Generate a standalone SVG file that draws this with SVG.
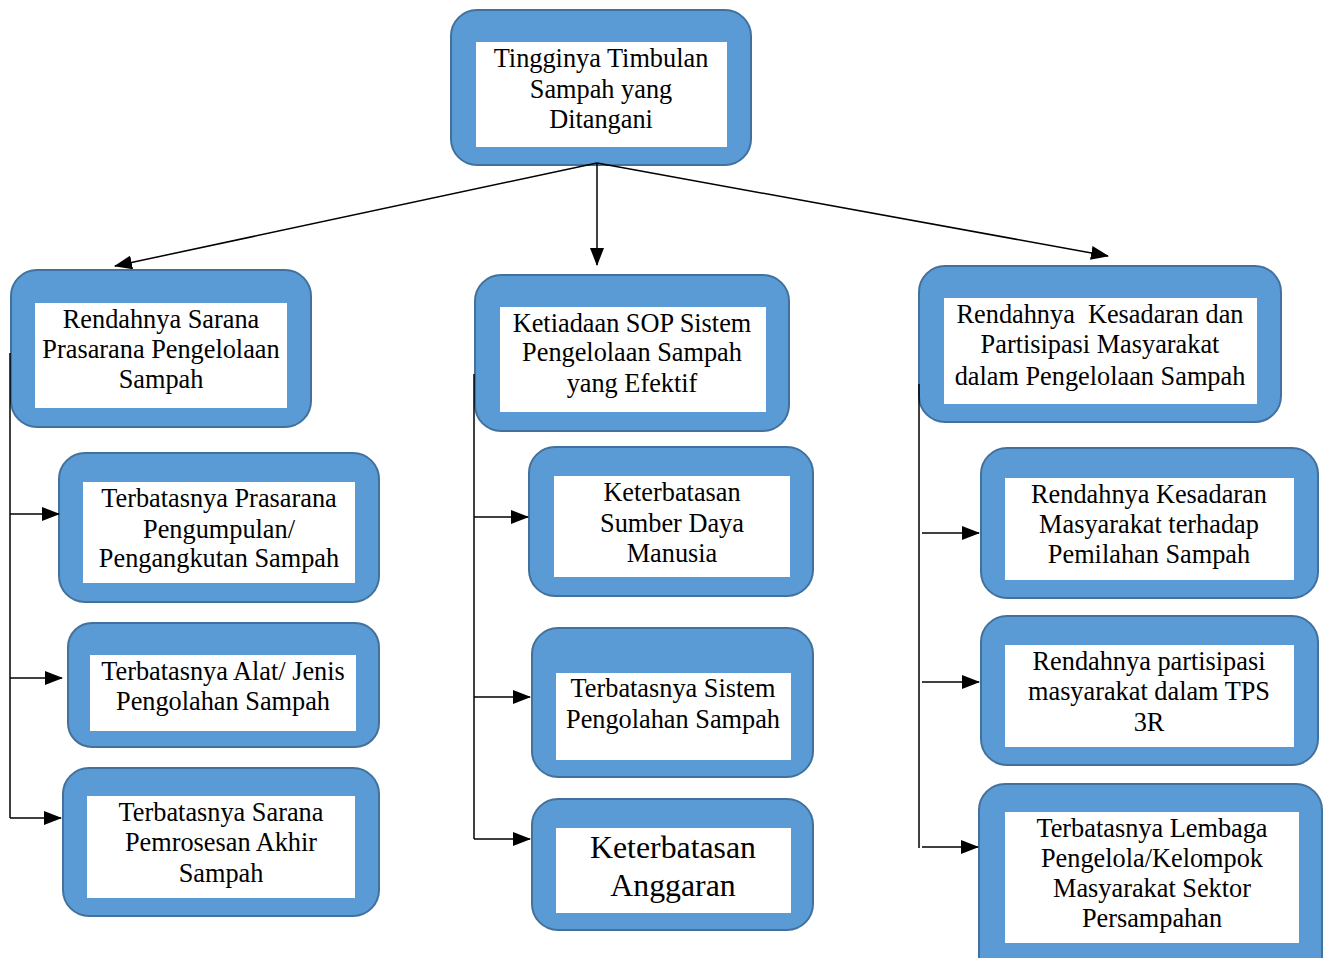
<svg xmlns="http://www.w3.org/2000/svg" width="1323" height="958" viewBox="0 0 1323 958">
<style>
.box{fill:#5B9BD5;stroke:#41719C;stroke-width:2}
.in{fill:#FFFFFF}
.t{font-family:"Liberation Serif","Times New Roman",serif;font-size:26.3px;fill:#000;text-anchor:middle;white-space:pre}
.big{font-size:31.8px}
.c{stroke:#000;stroke-width:1.5;fill:none}
.a{marker-end:url(#ah)}
</style>
<defs>
<marker id="ah" markerWidth="18" markerHeight="14" refX="17" refY="7" orient="auto" markerUnits="userSpaceOnUse">
<path d="M0,0 L18,7 L0,14 Z" fill="#000"/>
</marker>
</defs>
<g id="n0">
<rect class="box" x="451" y="10" width="300" height="155" rx="26"/>
<rect class="in" x="476" y="42" width="251" height="105"/>
<text class="t"><tspan x="601" y="67">Tingginya Timbulan</tspan><tspan x="601" y="98">Sampah yang</tspan><tspan x="601" y="128">Ditangani</tspan></text>
</g>
<g id="L1">
<rect class="box" x="11" y="270" width="300" height="157" rx="26"/>
<rect class="in" x="35" y="303" width="252" height="105"/>
<text class="t"><tspan x="161" y="328">Rendahnya Sarana</tspan><tspan x="161" y="358">Prasarana Pengelolaan</tspan><tspan x="161" y="388">Sampah</tspan></text>
</g>
<g id="L2">
<rect class="box" x="59" y="453" width="320" height="149" rx="26"/>
<rect class="in" x="83" y="482" width="272" height="101"/>
<text class="t"><tspan x="219" y="507">Terbatasnya Prasarana</tspan><tspan x="219" y="538">Pengumpulan/</tspan><tspan x="219" y="567">Pengangkutan Sampah</tspan></text>
</g>
<g id="L3">
<rect class="box" x="68" y="623" width="311" height="124" rx="24"/>
<rect class="in" x="90" y="655" width="266" height="76"/>
<text class="t"><tspan x="223" y="680">Terbatasnya Alat/ Jenis</tspan><tspan x="223" y="710">Pengolahan Sampah</tspan></text>
</g>
<g id="L4">
<rect class="box" x="63" y="768" width="316" height="148" rx="26"/>
<rect class="in" x="87" y="796" width="268" height="102"/>
<text class="t"><tspan x="221" y="821">Terbatasnya Sarana</tspan><tspan x="221" y="851">Pemrosesan Akhir</tspan><tspan x="221" y="882">Sampah</tspan></text>
</g>
<g id="M1">
<rect class="box" x="475" y="275" width="314" height="156" rx="26"/>
<rect class="in" x="500" y="307" width="266" height="105"/>
<text class="t"><tspan x="632" y="332">Ketiadaan SOP Sistem</tspan><tspan x="632" y="361">Pengelolaan Sampah</tspan><tspan x="632" y="392">yang Efektif</tspan></text>
</g>
<g id="M2">
<rect class="box" x="529" y="447" width="284" height="149" rx="26"/>
<rect class="in" x="554" y="476" width="236" height="101"/>
<text class="t"><tspan x="672" y="501">Keterbatasan</tspan><tspan x="672" y="532">Sumber Daya</tspan><tspan x="672" y="562">Manusia</tspan></text>
</g>
<g id="M3">
<rect class="box" x="532" y="628" width="281" height="149" rx="26"/>
<rect class="in" x="556" y="673" width="235" height="87"/>
<text class="t"><tspan x="673" y="697">Terbatasnya Sistem</tspan><tspan x="673" y="728">Pengolahan Sampah</tspan></text>
</g>
<g id="M4">
<rect class="box" x="532" y="799" width="281" height="131" rx="26"/>
<rect class="in" x="556" y="828" width="235" height="85"/>
<text class="t big"><tspan x="673" y="858">Keterbatasan</tspan><tspan x="673" y="896">Anggaran</tspan></text>
</g>
<g id="R1">
<rect class="box" x="919" y="266" width="362" height="156" rx="26"/>
<rect class="in" x="944" y="298" width="313" height="106"/>
<text class="t"><tspan x="1100" y="323">Rendahnya  Kesadaran dan</tspan><tspan x="1100" y="353">Partisipasi Masyarakat</tspan><tspan x="1100" y="385">dalam Pengelolaan Sampah</tspan></text>
</g>
<g id="R2">
<rect class="box" x="981" y="448" width="337" height="150" rx="26"/>
<rect class="in" x="1005" y="478" width="289" height="102"/>
<text class="t"><tspan x="1149" y="503">Rendahnya Kesadaran</tspan><tspan x="1149" y="533">Masyarakat terhadap</tspan><tspan x="1149" y="563">Pemilahan Sampah</tspan></text>
</g>
<g id="R3">
<rect class="box" x="981" y="616" width="337" height="149" rx="26"/>
<rect class="in" x="1005" y="645" width="289" height="102"/>
<text class="t"><tspan x="1149" y="670">Rendahnya partisipasi</tspan><tspan x="1149" y="700">masyarakat dalam TPS</tspan><tspan x="1149" y="731">3R</tspan></text>
</g>
<g id="R4">
<rect class="box" x="979" y="784" width="343" height="200" rx="26"/>
<rect class="in" x="1005" y="812" width="294" height="131"/>
<text class="t"><tspan x="1152" y="837">Terbatasnya Lembaga</tspan><tspan x="1152" y="867">Pengelola/Kelompok</tspan><tspan x="1152" y="897">Masyarakat Sektor</tspan><tspan x="1152" y="927">Persampahan</tspan></text>
</g>
<g id="connectors">
<path class="c a" d="M597,163 L115,266"/>
<path class="c a" d="M597,163 L597,265"/>
<path class="c a" d="M597,163 L1108,256"/>
<path class="c" d="M10,353 L10,818"/>
<path class="c a" d="M10,514 L59,514"/>
<path class="c a" d="M10,678 L62,678"/>
<path class="c a" d="M10,818 L61,818"/>
<path class="c" d="M474,374 L474,839"/>
<path class="c a" d="M474,517 L528,517"/>
<path class="c a" d="M474,697 L530,697"/>
<path class="c a" d="M474,839 L530,839"/>
<path class="c" d="M919,384 L919,848"/>
<path class="c a" d="M922,533 L979,533"/>
<path class="c a" d="M922,682 L979,682"/>
<path class="c a" d="M922,847 L978,847"/>
</g>
</svg>
